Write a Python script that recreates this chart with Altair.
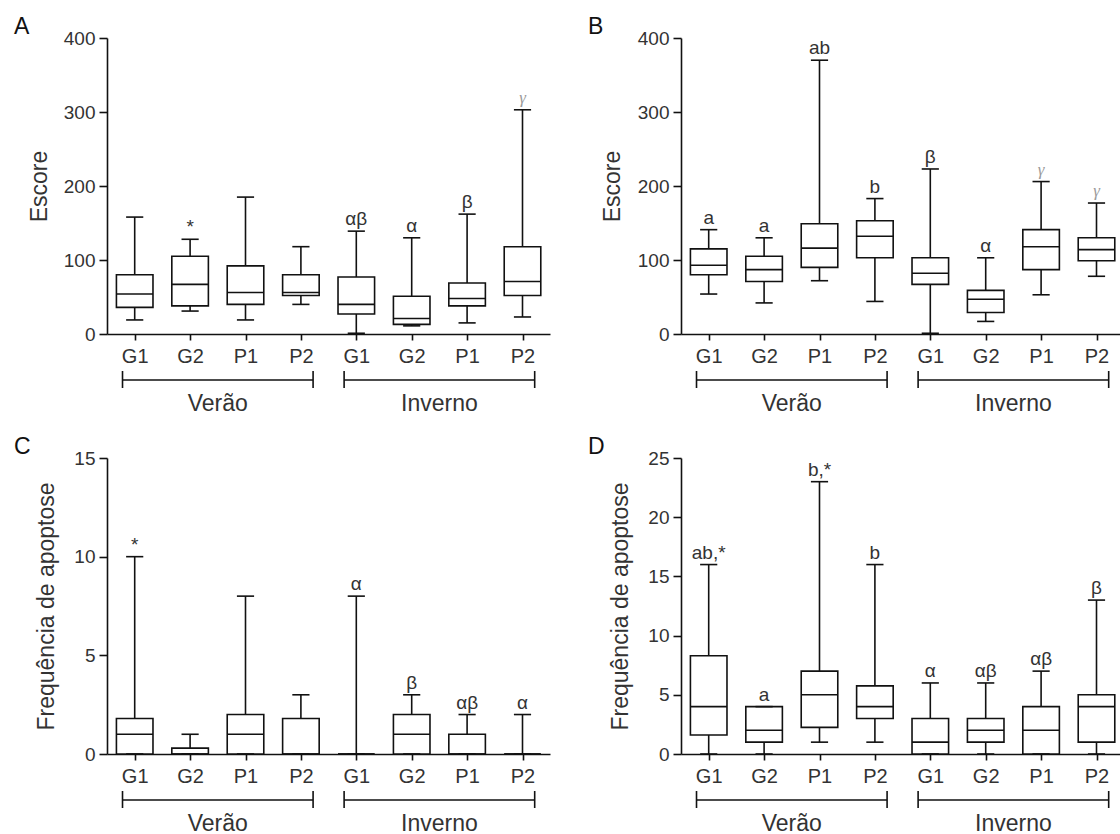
import json
import altair as alt
import pandas as pd

# ---------------- data ----------------
groups = ["G1", "G2", "P1", "P2", "G1", "G2", "P1", "P2"]
seasons = ["Verão", "Inverno"]
season_first = [0, 4]
season_last = [3, 7]

# Panel A  (Escore)
a_low = [19, 31, 19, 40, 1, 11, 15, 23]
a_q1 = [36, 38, 40, 52, 27, 13, 38, 52]
a_med = [54, 67, 56, 56, 40, 21, 48, 71]
a_q3 = [80, 105, 92, 80, 77, 51, 69, 118]
a_high = [158, 128, 185, 118, 139, 130, 162, 303]
a_ann = ["", "*", "", "", "αβ", "α", "β", "γ"]

# Panel B  (Escore)
b_low = [54, 42, 72, 44, 1, 17, 53, 78]
b_q1 = [80, 71, 90, 103, 67, 29, 87, 99]
b_med = [93, 87, 116, 132, 82, 47, 118, 114]
b_q3 = [115, 105, 149, 153, 103, 59, 141, 130]
b_high = [141, 130, 370, 183, 223, 103, 206, 177]
b_ann = ["a", "a", "ab", "b", "β", "α", "γ", "γ"]

# Panel C  (Frequência de apoptose)
c_low = [0, 0, 0, 0, 0, 0, 0, 0]
c_q1 = [0, 0, 0, 0, 0, 0, 0, 0]
c_med = [1, 0, 1, 0, 0, 1, 0, 0]
c_q3 = [1.8, 0.3, 2, 1.8, 0, 2, 1, 0]
c_high = [10, 1, 8, 3, 8, 3, 2, 2]
c_ann = ["*", "", "", "", "α", "β", "αβ", "α"]

# Panel D  (Frequência de apoptose)
d_low = [0, 0, 1, 1, 0, 0, 0, 0]
d_q1 = [1.6, 1, 2.25, 3, 0, 1, 0, 1]
d_med = [4, 2, 5, 4, 1, 2, 2, 4]
d_q3 = [8.3, 4, 7, 5.75, 3, 3, 4, 5]
d_high = [16, 4, 23, 16, 6, 6, 7, 13]
d_ann = ["ab,*", "a", "b,*", "b", "α", "αβ", "αβ", "β"]

# ---------------- style ----------------
FONT = "Liberation Sans"
TXT = "#333333"
LINE = "#111111"
LW = 1.6
STEP = 55.4          # px per category
H = 296              # plot height
BOX_HALF = 0.33
CAP_HALF = 0.155
BRACKET_EXT = 0.22

label_expr = "%s[datum.value]" % json.dumps(groups, ensure_ascii=False)


def panel(letter, low, q1, med, q3, high, ann, ymax, ystep, ytitle, width, title_x):
    df = pd.DataFrame({
        "i": list(range(len(groups))),
        "low": low, "q1": q1, "med": med, "q3": q3, "high": high,
        "ann": ann,
        "gamma": [a == "γ" for a in ann],
    })
    sdf = pd.DataFrame({"season": seasons, "first": season_first, "last": season_last})

    xscale = alt.Scale(domain=[-0.5, width / STEP - 0.5], nice=False, zero=False)
    yscale = alt.Scale(domain=[0, ymax], nice=False, zero=True)
    xaxis = alt.Axis(values=list(range(len(groups))), labelExpr=label_expr, title=None,
                     grid=False, tickSize=6, labelPadding=6, labelFontSize=20,
                     labelFont=FONT, labelColor=TXT, labelFlush=False, labelOverlap=False,
                     domainColor=LINE, domainWidth=LW, tickColor=LINE, tickWidth=LW)
    yaxis = alt.Axis(values=list(range(0, ymax + 1, ystep)), title=ytitle, grid=False,
                     tickSize=8, labelPadding=4, labelFontSize=19, labelFont=FONT,
                     labelColor=TXT, titleFont=FONT, titleFontSize=23,
                     titleFontWeight="normal", titleColor=TXT, titleX=title_x,
                     titleY=H / 2, titleAngle=270, titleBaseline="alphabetic",
                     titleAlign="center", domainColor=LINE, domainWidth=LW,
                     tickColor=LINE, tickWidth=LW)

    def X(f):
        return alt.X(f, type="quantitative", scale=xscale, axis=xaxis)

    def Y(f):
        return alt.Y(f, type="quantitative", scale=yscale, axis=yaxis)

    base = alt.Chart(df).transform_calculate(
        bl="datum.i - %f" % BOX_HALF, br="datum.i + %f" % BOX_HALF,
        cl="datum.i - %f" % CAP_HALF, cr="datum.i + %f" % CAP_HALF,
    )
    whisker = base.mark_rule(color=LINE, strokeWidth=LW).encode(
        x=X("i"), y=Y("low"), y2="high:Q")
    box = base.mark_rect(fill="white", stroke=LINE, strokeWidth=LW).encode(
        x=X("bl"), x2="br:Q", y=Y("q1"), y2="q3:Q")
    median = base.mark_rule(color=LINE, strokeWidth=LW).encode(
        x=X("bl"), x2="br:Q", y=Y("med"))
    cap_hi = base.mark_rule(color=LINE, strokeWidth=LW).encode(
        x=X("cl"), x2="cr:Q", y=Y("high"))
    cap_lo = base.mark_rule(color=LINE, strokeWidth=LW).encode(
        x=X("cl"), x2="cr:Q", y=Y("low"))
    notes = base.transform_filter("!datum.gamma").mark_text(
        dy=-6, baseline="alphabetic", align="center", font=FONT, fontSize=19, color=TXT
    ).encode(x=X("i"), y=Y("high"), text="ann:N")
    notes_g = base.transform_filter("datum.gamma").mark_text(
        dy=-7, baseline="alphabetic", align="center", font="Liberation Serif",
        fontStyle="italic", fontSize=17, color="#9a9a9a"
    ).encode(x=X("i"), y=Y("high"), text="ann:N")

    sbase = alt.Chart(sdf).transform_calculate(
        s="datum.first - %f" % BRACKET_EXT, e="datum.last + %f" % BRACKET_EXT,
        mid="(datum.first + datum.last) / 2",
    )
    br_line = sbase.mark_rule(color=LINE, strokeWidth=LW).encode(
        x=X("s"), x2="e:Q", y=alt.value(H + 46))
    br_l = sbase.mark_rule(color=LINE, strokeWidth=LW).encode(
        x=X("s"), y=alt.value(H + 37), y2=alt.value(H + 54))
    br_r = sbase.mark_rule(color=LINE, strokeWidth=LW).encode(
        x=X("e"), y=alt.value(H + 37), y2=alt.value(H + 54))
    s_text = sbase.mark_text(fontSize=23, font=FONT, color=TXT, baseline="alphabetic",
                             align="center").encode(
        x=X("mid"), y=alt.value(H + 77), text="season:N")

    let = alt.Chart(pd.DataFrame({"letter": [letter]})).mark_text(
        fontSize=23, font=FONT, color="#111111", align="left", baseline="alphabetic"
    ).encode(x=alt.value(-93), y=alt.value(-4), text="letter:N")

    return alt.layer(whisker, box, median, cap_hi, cap_lo, notes, notes_g,
                     br_line, br_l, br_r, s_text, let).properties(width=width, height=H)


pA = panel("A", a_low, a_q1, a_med, a_q3, a_high, a_ann, 400, 100, "Escore", 443, -61)
pB = panel("B", b_low, b_q1, b_med, b_q3, b_high, b_ann, 400, 100, "Escore", 439, -62)
pC = panel("C", c_low, c_q1, c_med, c_q3, c_high, c_ann, 15, 5, "Frequência de apoptose", 443, -54)
pD = panel("D", d_low, d_q1, d_med, d_q3, d_high, d_ann, 25, 5, "Frequência de apoptose", 439, -54)

chart = alt.concat(pA, pB, pC, pD, columns=2, spacing={"row": 124, "column": 131},
                   bounds="flush").properties(
    padding={"left": 14, "top": 16, "right": 0, "bottom": 0},
    background="white",
).configure_view(strokeWidth=0, stroke="transparent")

chart.save("out.html", embed_options={"renderer": "svg", "actions": False})
